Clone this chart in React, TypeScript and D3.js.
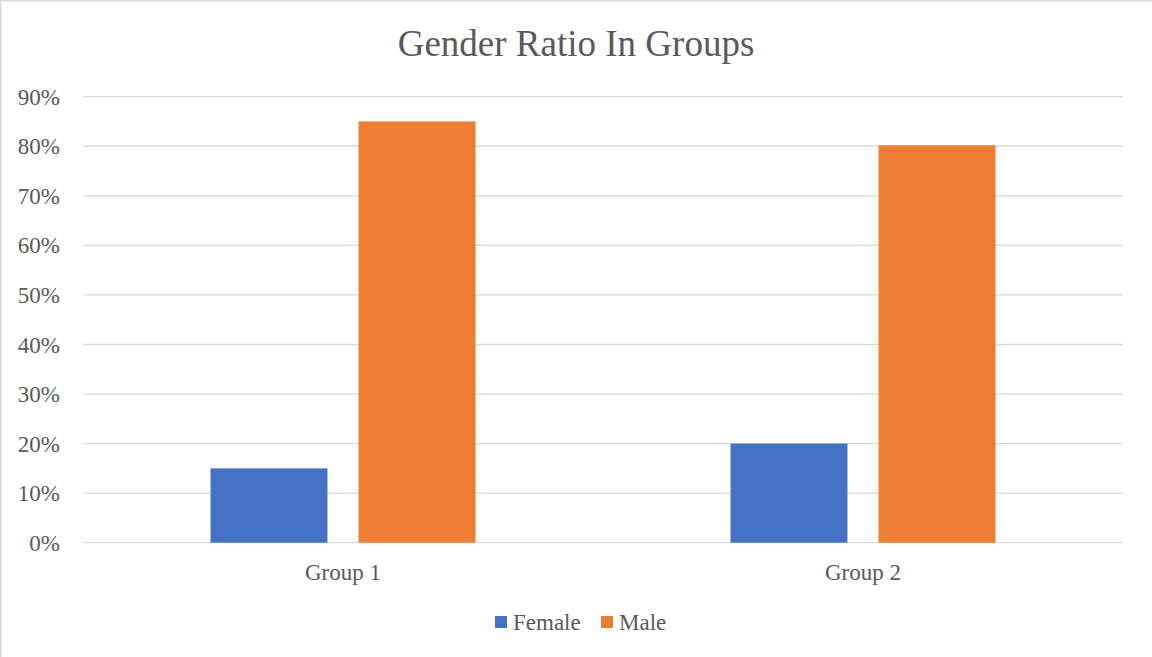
import React from "react";
import * as d3 from "d3";

const groups = ["Group 1", "Group 2"];
const seriesNames = ["Female", "Male"];
const female = [0.15, 0.2];
const male = [0.85, 0.802];
const yTicks = [0, 0.1, 0.2, 0.3, 0.4, 0.5, 0.6, 0.7, 0.8, 0.9];
const colors = ["#4472C4", "#ED7D31"];
const title = "Gender Ratio In Groups";

const W = 1152;
const H = 657;
const FONT = "'Liberation Serif', 'Times New Roman', serif";
const TEXT = "#595959";

export default function App() {
  const left = 83;
  const right = 1123;
  const top = 96.7;
  const bottom = 542.7;
  const y = d3.scaleLinear().domain([0, 0.9]).range([bottom, top]);
  const x0 = d3.scaleBand<string>().domain(groups).range([left, right]).paddingInner(0.4904).paddingOuter(0.2452);
  const x1 = d3.scaleBand<string>().domain(seriesNames).range([0, x0.bandwidth()]).paddingInner(0.21);
  const fmt = d3.format(".0%");
  const values = [female, male];

  return (
    <div style={{ position: "fixed", left: 0, top: 0 }}>
      <svg width={W} height={H} style={{ display: "block", background: "#fff" }}>
        <rect x={0.75} y={0.75} width={W + 20} height={H + 20} fill="#fff" stroke="#d9d9d9" strokeWidth={1.5} />
        <text x={576} y={56} textAnchor="middle" fontFamily={FONT} fontSize={37} fill={TEXT}>{title}</text>
        {yTicks.map((t) => (
          <g key={t}>
            <line x1={left} x2={right} y1={y(t)} y2={y(t)} stroke="#d9d9d9" strokeWidth={1.3} />
            <text x={60} y={y(t)} dy="0.35em" textAnchor="end" fontFamily={FONT} fontSize={23} fill={TEXT}>{fmt(t)}</text>
          </g>
        ))}
        {groups.map((g, gi) => (
          <g key={g} transform={`translate(${x0(g)},0)`}>
            {seriesNames.map((s, si) => (
              <rect key={s} x={x1(s)} y={y(values[si][gi])} width={x1.bandwidth()} height={bottom - y(values[si][gi])} fill={colors[si]} />
            ))}
            <text x={x0.bandwidth() / 2} y={580} textAnchor="middle" fontFamily={FONT} fontSize={23} fill={TEXT}>{g}</text>
          </g>
        ))}
        <g transform="translate(495,616)">
          {seriesNames.map((s, si) => (
            <g key={s} transform={`translate(${si * 106},0)`}>
              <rect x={0} y={0} width={12} height={12} fill={colors[si]} />
              <text x={18} y={14} fontFamily={FONT} fontSize={23} fill={TEXT}>{s}</text>
            </g>
          ))}
        </g>
      </svg>
    </div>
  );
}
